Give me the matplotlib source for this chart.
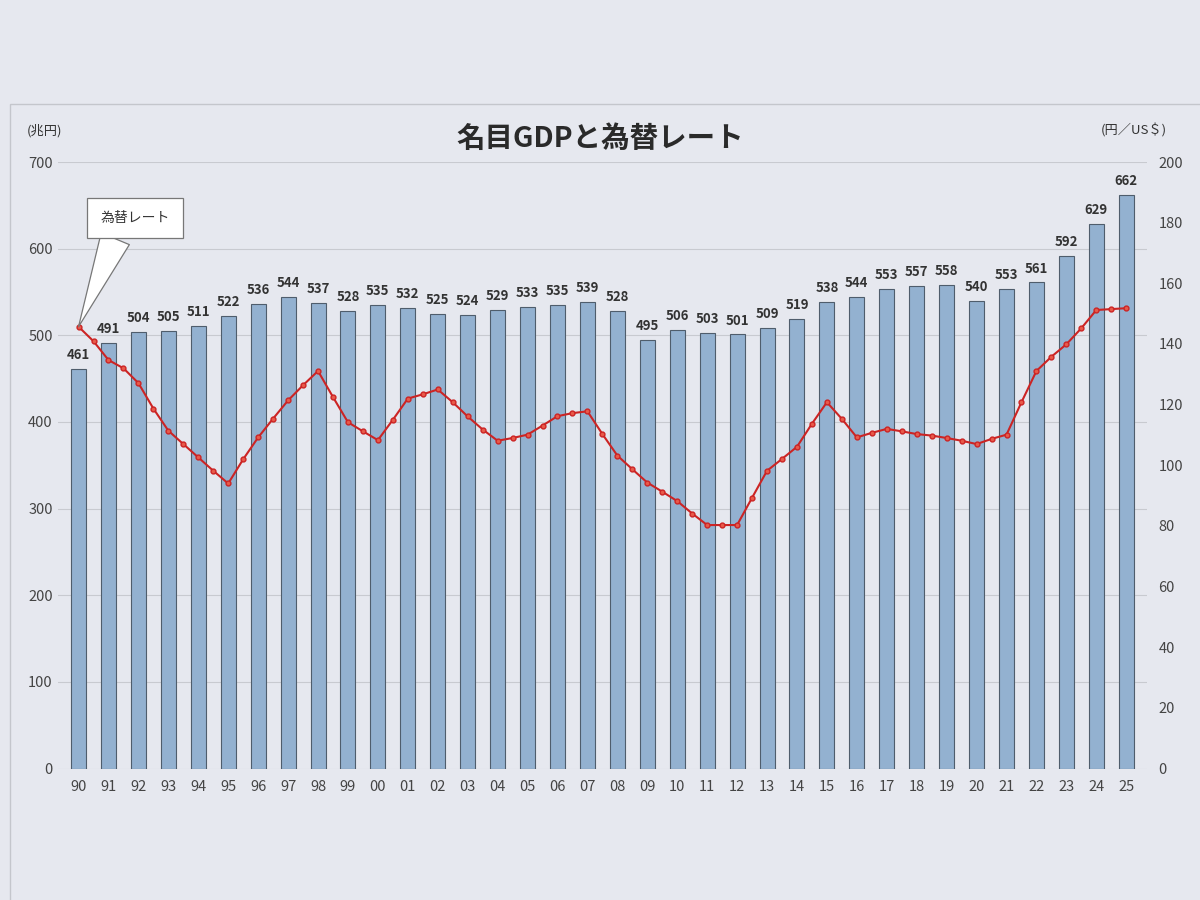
import matplotlib
matplotlib.use("Agg")
import matplotlib.pyplot as plt
import numpy as np
from matplotlib.patches import Rectangle

plt.rcParams['font.family'] = ['Noto Sans CJK JP', 'DejaVu Sans']

years = ['90', '91', '92', '93', '94', '95', '96', '97', '98', '99',
         '00', '01', '02', '03', '04', '05', '06', '07', '08', '09',
         '10', '11', '12', '13', '14', '15', '16', '17', '18', '19',
         '20', '21', '22', '23', '24', '25']
gdp = [461, 491, 504, 505, 511, 522, 536, 544, 537, 528,
       535, 532, 525, 524, 529, 533, 535, 539, 528, 495,
       506, 503, 501, 509, 519, 538, 544, 553, 557, 558,
       540, 553, 561, 592, 629, 662]
# exchange rate, half-year steps from 1990 to 2025
rate = [145.7, 140.9, 134.7, 132.0, 127.1, 118.7, 111.4, 107.0, 102.6, 98.2,
        94.0, 102.0, 109.2, 115.4, 121.4, 126.4, 131.1, 122.5, 114.2, 111.2,
        108.3, 115.0, 122.0, 123.4, 125.0, 120.8, 116.1, 111.8, 108.1, 109.0,
        110.1, 113.1, 116.2, 117.2, 117.8, 110.3, 103.2, 98.7, 94.3, 91.3,
        88.2, 84.1, 80.3, 80.3, 80.3, 89.3, 98.2, 102.1, 106.1, 113.7,
        120.8, 115.3, 109.2, 110.7, 112.0, 111.2, 110.3, 109.8, 109.0, 108.1,
        107.0, 108.7, 110.1, 120.8, 131.1, 135.8, 139.9, 145.2, 151.2, 151.5,
        151.8]

bg = '#e6e8ef'
fig = plt.figure(figsize=(12, 9), dpi=100, facecolor=bg)
ax = fig.add_axes([0.048, 0.146, 0.908, 0.674], facecolor=bg)

x = np.arange(len(years))
ax.bar(x, gdp, width=0.5, color='#93b1d0', edgecolor='#4f5d6c', linewidth=0.8, zorder=2)
for xi, v in zip(x, gdp):
    ax.text(xi, v + 8, str(v), ha='center', va='bottom', fontsize=9.5,
            color='#333333', fontweight='bold', zorder=4)

ax.set_ylim(0, 700)
ax.set_yticks(range(0, 701, 100))
ax.set_xlim(-0.7, len(years) - 0.3)
ax.set_xticks(x)
ax.set_xticklabels(years)
ax.grid(axis='y', color='#c8cad0', linewidth=0.8, zorder=0)
for s in ax.spines.values():
    s.set_visible(False)
ax.tick_params(axis='both', length=0, labelsize=10.5, colors='#444444')
ax.tick_params(axis='x', pad=8)

ax2 = ax.twinx()
ax2.set_ylim(0, 200)
ax2.set_yticks(range(0, 201, 20))
for s in ax2.spines.values():
    s.set_visible(False)
ax2.tick_params(axis='y', length=0, labelsize=10.5, colors='#444444', pad=8)

rx = np.arange(len(rate)) * 0.5
ax2.plot(rx, rate, color='#cc2424', linewidth=1.5, marker='o', markersize=3.5,
         markerfacecolor='#e85a4a', markeredgecolor='#cc2424', zorder=5)

ax2.annotate('為替レート', xy=(rx[0], rate[0]), xytext=(1.88, 181.5),
             ha='center', va='center', fontsize=10, color='#333333',
             bbox=dict(boxstyle='square,pad=0.95', fc='white', ec='#777777', lw=0.9),
             arrowprops=dict(arrowstyle='wedge,tail_width=2.2,shrink_factor=0.5',
                             fc='white', ec='#777777', lw=0.9,
                             relpos=(0.3, 0.0), shrinkA=0, shrinkB=0), zorder=6)

fig.text(0.5, 0.846, '名目GDPと為替レート', ha='center', va='center', fontsize=20.5,
         fontweight='bold', color='#2a2a2a')
fig.text(0.022, 0.855, '(兆円)', ha='left', va='center', fontsize=9.5, color='#333333')
fig.text(0.972, 0.855, '(円／US＄)', ha='right', va='center', fontsize=9.5, color='#333333')

fig.patches.append(Rectangle((0.008, -0.05), 1.1, 0.935, transform=fig.transFigure,
                             fill=False, ec='#c4c6cc', lw=1.0))

fig.savefig('out.png', dpi=100, facecolor=bg)
